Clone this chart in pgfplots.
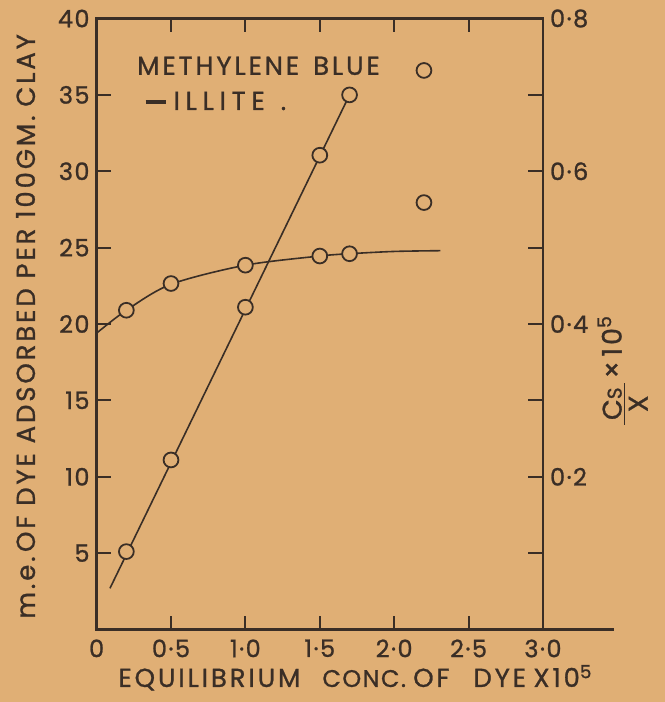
\documentclass[border=0pt]{standalone}
\usepackage{pgfplots}
\pgfplotsset{compat=1.18}
\usepackage{fontspec}
\setmainfont{Poppins}
\newfontfamily\lett[LetterSpace=11, FakeBold=1]{Poppins}
\newfontfamily\wlett[LetterSpace=22, FakeBold=1]{Poppins}
\newfontfamily\tlett[LetterSpace=6, FakeBold=1]{Poppins}
\usetikzlibrary{backgrounds}
\definecolor{paper}{HTML}{E0AF75}
\definecolor{ink}{HTML}{3A2E26}
\tikzset{xlabw/.style={anchor=base west, inner sep=0, text=ink, font=\fontsize{13}{14}\lett}}
\begin{document}
\begin{tikzpicture}
\begin{axis}[
  name=main,
  scale only axis, width=223.2pt, height=305.5pt,
  xmin=0, xmax=3, ymin=0, ymax=40,
  clip=false,
  axis line style={ink, line width=1.2pt},
  every tick/.style={ink, line width=1pt},
  tick align=inside,
  major tick length=7pt,
  xtick pos=both, ytick pos=left,
  xtick={0,0.5,1,1.5,2,2.5,3},
  xticklabels={0,0·5,1·0,1·5,2·0,2·5,3·0},
  ytick={5,10,15,20,25,30,35,40},
  yticklabels={5,10,15,20,25,30,35,40},
  tick label style={text=ink, font=\fontsize{12}{13}\tlett},
  xticklabel style={yshift=-1.5pt},
]
\addplot[ink, line width=0.8pt, smooth, tension=0.5] coordinates {
  (0,19.4) (0.2,20.9) (0.5,22.6) (1.0,23.85) (1.5,24.45) (1.7,24.6) (2.0,24.75) (2.31,24.8)};
\addplot[only marks, mark=*, mark size=3.7pt, mark options={draw=ink, fill=paper, line width=0.9pt}] coordinates {
  (0.2,20.9) (0.5,22.65) (1.0,23.85) (1.5,24.45) (1.7,24.6)};
\draw[ink, line width=1.2pt] (axis cs:3,0) -- (axis cs:3.48,0);
\node[anchor=west, inner sep=0, text=ink, font=\fontsize{13}{14}\lett] at (axis cs:0.27,36.9) {METHYLENE\hspace{7pt}BLUE};
\node[anchor=west, inner sep=0, text=ink, font=\fontsize{13}{14}\wlett] at (axis cs:0.326,34.6) {\rule[3.2pt]{10pt}{1.8pt}\hspace{4pt}ILLITE\hspace{8pt}.};
\node[rotate=90, inner sep=0, text=ink, font=\fontsize{13}{14}\lett] at (axis cs:-0.478,19.84) {m.e.\,OF DYE ADSORBED PER 100GM.\,\,CLAY};
\node[xlabw] at (axis cs:0.144,-3.76) {EQUILIBRIUM};
\node[xlabw, font=\fontsize{12}{13}\tlett] at (axis cs:1.515,-3.76) {CONC.};
\node[xlabw] at (axis cs:2.125,-3.76) {OF};
\node[xlabw] at (axis cs:2.530,-3.76) {DYE};
\node[xlabw] at (axis cs:2.933,-3.76) {X10\textsuperscript{5}};
\node[rotate=90, inner sep=0, text=ink, font=\fontsize{13.5}{15}\lett] at (axis cs:3.565,17.0) {\begin{tabular}{@{}c@{}l@{}}\underline{\,C{\fontsize{10}{11}\selectfont S}\,} & \,×\,10\textsuperscript{5}\\[-2pt] X & \end{tabular}};
\end{axis}
\begin{axis}[
  scale only axis, width=223.2pt, height=305.5pt,
  xmin=0, xmax=3, ymin=0, ymax=0.8,
  clip=false,
  axis x line=none, axis y line*=right,
  axis line style={ink, line width=1.2pt},
  every tick/.style={ink, line width=1pt},
  tick align=inside,
  major tick length=7.5pt,
  ytick={0.1,0.2,0.3,0.4,0.5,0.6,0.7,0.8},
  yticklabels={,0·2,,0·4,,0·6,,0·8},
  tick label style={text=ink, font=\fontsize{12}{13}\tlett},
]
\addplot[ink, line width=0.8pt] coordinates {(0.09,0.054) (1.7,0.700)};
\addplot[only marks, mark=*, mark size=3.7pt, mark options={draw=ink, fill=paper, line width=0.9pt}] coordinates {
  (0.2,0.102) (0.5,0.222) (1.0,0.422) (1.5,0.621) (1.7,0.700) (2.2,0.732) (2.2,0.559)};
\end{axis}
\begin{scope}[on background layer]
\fill[paper] ([xshift=-48.3pt, yshift=-36.25pt]main.south west) rectangle ([xshift=61pt, yshift=9.25pt]main.north east);
\end{scope}
\end{tikzpicture}
\end{document}
